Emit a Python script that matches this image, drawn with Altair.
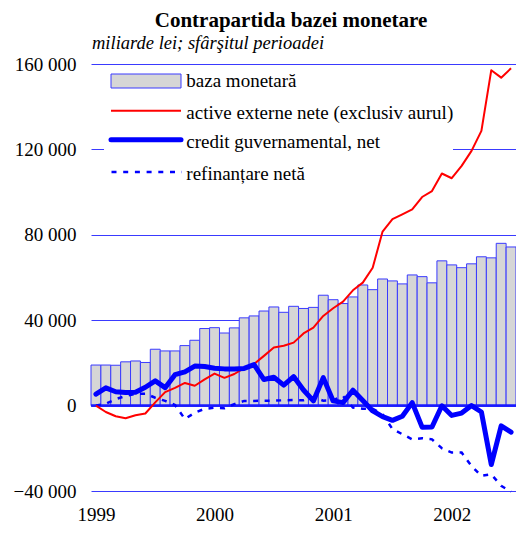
import altair as alt
import pandas as pd

# Monthly observations, January 1999 .. July 2002 (43 months)
months = list(range(43))
baza = [19000, 19000, 18900, 20500, 20900, 20200, 26400, 25600, 25600, 28100, 30600, 36100,
        36500, 34000, 36400, 41100, 42000, 44300, 46200, 43700, 46500, 45500, 46000, 51700,
        49600, 47800, 50900, 56500, 54300, 59300, 58400, 57000, 61200, 60400, 57500, 67800,
        65900, 64600, 66400, 69700, 69200, 76000, 74300]
activ = [0, -3000, -5000, -5900, -4500, -3700, 1500, 6300, 8300, 10600, 9300, 12300,
         15000, 13000, 14800, 17600, 19500, 23300, 27200, 28000, 29500, 33800, 36500, 42000,
         45600, 48700, 54000, 57600, 64600, 81500, 87300, 89600, 91900, 97700, 100500, 108700,
         106500, 112300, 119300, 128700, 157100, 153600, 158000]
credit = [5400, 8300, 6500, 6100, 6300, 8600, 11600, 8400, 14500, 15800, 18500, 18300,
          17500, 17200, 17200, 17400, 19200, 12200, 13300, 9600, 13600, 7300, 2200, 13100,
          2200, 1400, 7200, 2400, -2500, -5200, -6900, -5000, 1400, -10100, -10000, -100,
          -4600, -3500, 0, -3000, -27600, -9500, -12400]
refin = [0, 900, 3000, 4500, 5500, 5600, 3700, 2200, 300, -6300, -3300, -1500,
         -1000, -1200, 700, 2200, 2200, 2300, 2300, 2500, 2600, 2500, 3800, 2300,
         2500, 4500, -900, -1500, -1500, -4000, -11000, -13400, -15800, -15300, -15800, -20000,
         -22000, -22000, -28300, -32900, -32200, -37600, -40300]
year_ticks = [0, 12, 24, 36]
y_ticks = [-40000, 0, 40000, 80000, 120000, 160000]
title_text = "Contrapartida bazei monetare"
subtitle_text = "miliarde lei; sfârşitul perioadei"
legend_labels = ["baza monetară", "active externe nete (exclusiv aurul)",
                 "credit guvernamental, net", "refinanțare netă"]

df = pd.DataFrame({"i": months, "baza": baza, "activ": activ, "credit": credit, "refin": refin})
one = pd.DataFrame({"k": [0]})

FONT = "Liberation Serif"
BLUE = "#0000ff"
EDGE = "#3a3aff"
FILL = "#d6d6d6"

xs = alt.Scale(domain=[-0.5, 42.5], nice=False, zero=False)
ys = alt.Scale(domain=[-40000, 160000], nice=False, zero=False)

x_axis = alt.Axis(values=year_ticks, labelExpr="toString(1999 + datum.value / 12)", title=None,
                  grid=False, domain=False, ticks=False, tickSize=0, labelFont=FONT,
                  labelFontSize=19, labelColor="black", labelPadding=29,
                  labelBaseline="alphabetic", labelAlign="center")
y_axis = alt.Axis(values=y_ticks, labelExpr="replace(format(datum.value, ','), ',', ' ')",
                  title=None, grid=True, gridColor=EDGE, gridWidth=1, domain=False,
                  ticks=False, tickSize=0, labelFont=FONT, labelFontSize=19,
                  labelColor="black", labelPadding=15)

base = alt.Chart(df)

bars = base.transform_calculate(x0="datum.i - 0.5", x1="datum.i + 0.5", z0="0").mark_rect(
    fill=FILL, stroke=EDGE, strokeWidth=1
).encode(
    x=alt.X("x0:Q", scale=xs, axis=x_axis),
    x2="x1:Q",
    y=alt.Y("baza:Q", scale=ys, axis=y_axis),
    y2="z0:Q",
)


def series(field, **kw):
    return base.mark_line(**kw).encode(
        x=alt.X("i:Q", scale=xs, axis=x_axis),
        y=alt.Y(f"{field}:Q", scale=ys, axis=y_axis),
    )


zero_rule = alt.Chart(one).transform_calculate(z="0").mark_rule(
    color="#1a1aff", strokeWidth=2.5
).encode(y=alt.Y("z:Q", scale=ys, axis=y_axis))

dot_line = series("refin", color=BLUE, strokeWidth=2.5, strokeDash=[5, 6.5])
red_line = series("activ", color="#ff0000", strokeWidth=2, strokeJoin="round")
blue_line = series("credit", color=BLUE, strokeWidth=5, strokeJoin="round", strokeCap="round")

leg_bg = alt.Chart(one).mark_rect(fill="white").encode(
    x=alt.value(13), x2=alt.value(362), y=alt.value(5), y2=alt.value(128))
leg_swatch = alt.Chart(one).mark_rect(fill=FILL, stroke=EDGE, strokeWidth=1).encode(
    x=alt.value(20), x2=alt.value(90), y=alt.value(10), y2=alt.value(24))
leg_red = alt.Chart(one).mark_rule(color="#ff0000", strokeWidth=2).encode(
    x=alt.value(20), x2=alt.value(90), y=alt.value(46.7))
leg_blue = alt.Chart(one).mark_rule(color=BLUE, strokeWidth=5, strokeCap="round").encode(
    x=alt.value(20), x2=alt.value(90), y=alt.value(75.7))
leg_dot = alt.Chart(one).mark_rule(color=BLUE, strokeWidth=2.5, strokeDash=[5, 6.7]).encode(
    x=alt.value(20.5), x2=alt.value(91), y=alt.value(108))

leg_baselines = [23, 54.7, 84, 115.7]
leg_texts = [
    alt.Chart(one).mark_text(font=FONT, fontSize=19, align="left", baseline="alphabetic",
                             color="black").encode(
        x=alt.value(95.3), y=alt.value(b), text=alt.value(t))
    for t, b in zip(legend_labels, leg_baselines)
]

title = alt.Chart(one).mark_text(font=FONT, fontSize=21, fontWeight="bold", align="center",
                                 baseline="alphabetic", color="black").encode(
    x=alt.value(200), y=alt.value(-37), text=alt.value(title_text))
subtitle = alt.Chart(one).mark_text(font=FONT, fontSize=18.5, fontStyle="italic", align="left",
                                    baseline="alphabetic", color="black").encode(
    x=alt.value(1), y=alt.value(-15), text=alt.value(subtitle_text))

chart = alt.layer(
    bars, leg_bg, zero_rule, dot_line, red_line, blue_line,
    leg_swatch, leg_red, leg_blue, leg_dot, *leg_texts, title, subtitle
).properties(
    width=425, height=427,
    autosize=alt.AutoSizeParams(type="none"),
    padding={"left": 83, "top": 56, "right": 0, "bottom": 34},
).configure_view(stroke=None)

chart.save("out.html", embed_options={"renderer": "svg", "actions": False})
